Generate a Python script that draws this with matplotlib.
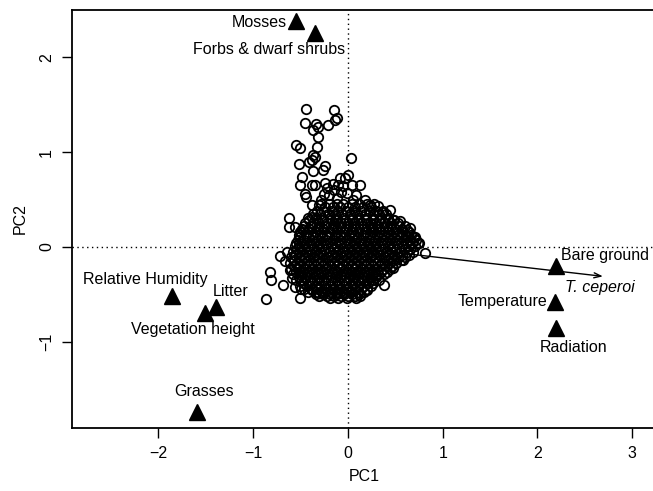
import matplotlib
matplotlib.use("Agg")
import matplotlib.pyplot as plt

plt.rcParams['font.family'] = ['Liberation Sans', 'DejaVu Sans']

# ---- data -------------------------------------------------------------
# dense core of site scores: rows of (PC2, [PC1 values])
core_rows = [
    (0.45, [-0.28, -0.2, -0.12, -0.05, 0.04, 0.12, 0.2, 0.28]),
    (0.38, [-0.33, -0.25, -0.17, -0.1, -0.02, 0.06, 0.14, 0.22, 0.3, 0.37]),
    (0.31, [-0.42, -0.34, -0.27, -0.19, -0.11, -0.04, 0.04, 0.11, 0.19, 0.27, 0.35, 0.42]),
    (0.25, [-0.45, -0.37, -0.3, -0.22, -0.15, -0.07, 0.0, 0.08, 0.15, 0.23, 0.3, 0.38, 0.46, 0.53]),
    (0.19, [-0.48, -0.41, -0.33, -0.26, -0.18, -0.11, -0.03, 0.04, 0.12, 0.19, 0.27, 0.34, 0.42, 0.5, 0.57]),
    (0.13, [-0.52, -0.44, -0.37, -0.29, -0.22, -0.14, -0.07, 0.01, 0.08, 0.16, 0.23, 0.31, 0.38, 0.46, 0.53, 0.61, 0.67]),
    (0.07, [-0.53, -0.46, -0.38, -0.31, -0.23, -0.16, -0.08, -0.01, 0.07, 0.14, 0.22, 0.29, 0.37, 0.44, 0.52, 0.59, 0.66, 0.72]),
    (0.01, [-0.56, -0.48, -0.41, -0.33, -0.26, -0.18, -0.11, -0.03, 0.04, 0.12, 0.19, 0.27, 0.34, 0.42, 0.49, 0.57, 0.64, 0.71]),
    (-0.05, [-0.58, -0.5, -0.43, -0.35, -0.28, -0.2, -0.13, -0.05, 0.02, 0.1, 0.17, 0.25, 0.32, 0.4, 0.47, 0.55, 0.62, 0.69]),
    (-0.11, [-0.6, -0.52, -0.45, -0.37, -0.3, -0.22, -0.15, -0.07, 0.0, 0.08, 0.15, 0.23, 0.3, 0.38, 0.45, 0.53, 0.6]),
    (-0.17, [-0.61, -0.54, -0.46, -0.39, -0.31, -0.24, -0.16, -0.09, -0.01, 0.06, 0.14, 0.21, 0.29, 0.36, 0.44, 0.51]),
    (-0.23, [-0.6, -0.53, -0.45, -0.38, -0.3, -0.23, -0.15, -0.08, 0.0, 0.07, 0.15, 0.22, 0.3, 0.37, 0.44]),
    (-0.29, [-0.58, -0.5, -0.43, -0.35, -0.28, -0.2, -0.13, -0.05, 0.02, 0.1, 0.17, 0.25, 0.32, 0.38]),
    (-0.35, [-0.55, -0.48, -0.4, -0.33, -0.25, -0.18, -0.1, -0.03, 0.05, 0.12, 0.2, 0.27, 0.33]),
    (-0.41, [-0.5, -0.43, -0.35, -0.28, -0.2, -0.13, -0.05, 0.02, 0.1, 0.17, 0.24]),
    (-0.47, [-0.42, -0.34, -0.27, -0.19, -0.12, -0.04, 0.03, 0.11, 0.17]),
    (-0.52, [-0.3, -0.22, -0.15, -0.07, 0.0, 0.08]),
]

# second, interleaved layer of the dense core
core_rows_b = [
    (0.42, [-0.24, -0.16, -0.08, 0.0, 0.08, 0.16, 0.24]),
    (0.35, [-0.37, -0.29, -0.21, -0.14, -0.06, 0.02, 0.1, 0.18, 0.26, 0.33, 0.4]),
    (0.28, [-0.41, -0.33, -0.26, -0.18, -0.11, -0.03, 0.04, 0.12, 0.19, 0.27, 0.34, 0.42, 0.49]),
    (0.22, [-0.46, -0.38, -0.3, -0.23, -0.15, -0.07, 0.0, 0.08, 0.16, 0.23, 0.31, 0.38, 0.46, 0.54]),
    (0.16, [-0.5, -0.42, -0.34, -0.27, -0.19, -0.11, -0.04, 0.04, 0.11, 0.19, 0.27, 0.34, 0.42, 0.49, 0.57, 0.64]),
    (0.10, [-0.5, -0.42, -0.35, -0.27, -0.2, -0.12, -0.04, 0.04, 0.11, 0.19, 0.26, 0.34, 0.41, 0.49, 0.56, 0.63, 0.7]),
    (0.04, [-0.52, -0.44, -0.37, -0.29, -0.22, -0.14, -0.07, 0.01, 0.08, 0.16, 0.23, 0.31, 0.38, 0.46, 0.53, 0.61, 0.68, 0.75]),
    (-0.02, [-0.54, -0.46, -0.39, -0.31, -0.24, -0.16, -0.09, -0.01, 0.06, 0.14, 0.21, 0.29, 0.36, 0.44, 0.51, 0.59, 0.66]),
    (-0.08, [-0.56, -0.48, -0.41, -0.33, -0.26, -0.18, -0.11, -0.03, 0.04, 0.12, 0.19, 0.27, 0.34, 0.42, 0.49, 0.57, 0.64]),
    (-0.14, [-0.57, -0.49, -0.42, -0.34, -0.27, -0.19, -0.12, -0.04, 0.03, 0.11, 0.18, 0.26, 0.33, 0.41, 0.48, 0.56]),
    (-0.20, [-0.57, -0.5, -0.42, -0.35, -0.27, -0.2, -0.12, -0.05, 0.03, 0.1, 0.18, 0.25, 0.33, 0.4, 0.47]),
    (-0.26, [-0.55, -0.47, -0.4, -0.32, -0.25, -0.17, -0.1, -0.02, 0.05, 0.13, 0.2, 0.28, 0.35, 0.41]),
    (-0.32, [-0.52, -0.44, -0.37, -0.29, -0.22, -0.14, -0.07, 0.01, 0.08, 0.16, 0.23, 0.3]),
    (-0.38, [-0.47, -0.39, -0.32, -0.24, -0.17, -0.09, -0.02, 0.06, 0.13, 0.21, 0.27]),
    (-0.44, [-0.46, -0.38, -0.31, -0.23, -0.16, -0.08, -0.01, 0.07, 0.14, 0.2]),
    (-0.50, [-0.34, -0.26, -0.19, -0.11, -0.04, 0.04, 0.12]),
]

# scattered site scores outside the core
outer_pc1 = [-0.446, -0.148, -0.12, -0.137, -0.454, -0.34, -0.32, -0.21, -0.37, -0.31,
             -0.55, -0.50, -0.33, -0.366, -0.35, -0.38, -0.41, -0.52, 0.03, -0.24,
             -0.26, -0.37, -0.48, 0.0, -0.03, -0.08, -0.50, -0.38, -0.35, -0.24,
             -0.155, -0.10, -0.05, 0.04, 0.13, -0.45, -0.44, -0.25, -0.07, -0.01,
             0.09, -0.38, -0.30, -0.62, -0.62, -0.56, -0.38, -0.51, -0.47, -0.55,
             -0.52, -0.72, -0.82, -0.815, -0.68, -0.61, -0.59, -0.56, -0.49, -0.51,
             -0.865, -0.38, -0.30, -0.19, -0.10, -0.01, 0.09, 0.44, 0.32, 0.23,
             0.48, 0.62, 0.71, 0.81, 0.74, 0.58, 0.48, 0.30, 0.27, 0.20,
             0.13, -0.2, -0.12, -0.28, 0.05, -0.15, -0.22, 0.18, 0.36, 0.55,
             0.6, 0.66, -0.64, -0.66, 0.38]
outer_pc2 = [1.457, 1.447, 1.36, 1.34, 1.306, 1.296, 1.27, 1.29, 1.23, 1.165,
             1.077, 1.04, 1.05, 0.97, 0.95, 0.92, 0.90, 0.87, 0.94, 0.85,
             0.81, 0.80, 0.74, 0.76, 0.73, 0.73, 0.65, 0.65, 0.65, 0.67,
             0.66, 0.65, 0.64, 0.65, 0.65, 0.56, 0.53, 0.56, 0.58, 0.57,
             0.55, 0.44, 0.44, 0.31, 0.21, 0.21, 0.32, 0.16, 0.18, 0.04,
             0.0, -0.10, -0.26, -0.35, -0.40, -0.24, -0.33, -0.42, -0.44, -0.54,
             -0.55, -0.45, -0.49, -0.54, -0.54, -0.54, -0.54, 0.39, 0.43, 0.44,
             0.285, 0.18, 0.11, -0.06, 0.04, -0.14, -0.22, -0.30, -0.35, -0.45,
             -0.52, 0.55, 0.52, 0.5, 0.5, 0.6, 0.62, 0.5, 0.37, 0.27,
             0.22, 0.2, -0.05, -0.15, -0.4]

# environmental variables (triangles)
env_names = ["Mosses", "Forbs & dwarf shrubs", "Relative Humidity", "Litter",
             "Vegetation height", "Grasses", "Bare ground", "Temperature", "Radiation"]
env_pc1 = [-0.55, -0.35, -1.86, -1.39, -1.51, -1.59, 2.20, 2.18, 2.20]
env_pc2 = [2.38, 2.26, -0.52, -0.63, -0.70, -1.74, -0.20, -0.58, -0.86]

# label anchor positions (data units) for each variable
lab_x = [-0.64, -0.03, -2.14, -1.24, -1.64, -1.52, 2.25, 2.10, 2.38]
lab_y = [2.37, 2.08, -0.34, -0.475, -0.876, -1.53, -0.095, -0.58, -1.06]
lab_ha = ["right", "right", "center", "center", "center", "center", "left", "right", "center"]

# species vector
species_name = "T. ceperoi"
species_vec = (2.69, -0.31)

# ---- figure -----------------------------------------------------------
fig = plt.figure(figsize=(6.53, 4.91), dpi=100)
W, H = 653, 491
ax = fig.add_axes([72 / W, 1 - 428 / H, (656 - 72) / W, (428 - 10) / H])

ax.axhline(0, color="black", lw=1.0, ls=(0, (1, 2.5)), zorder=1)
ax.axvline(0, color="black", lw=1.0, ls=(0, (1, 2.5)), zorder=1)

pc1 = []
pc2 = []
for rows in (core_rows, core_rows_b):
    for yv, xs in rows:
        for xv in xs:
            pc1.append(xv)
            pc2.append(yv)
pc1 += outer_pc1
pc2 += outer_pc2

ax.plot(pc1, pc2, ls="none", marker="o", ms=6.8, mfc="none", mec="black",
        mew=1.3, zorder=2)

ax.annotate("", xy=species_vec, xytext=(0, 0),
            arrowprops=dict(arrowstyle="->,head_length=0.5,head_width=0.18",
                            color="black", lw=1.0, shrinkA=0, shrinkB=0), zorder=3)
ax.text(2.66, -0.43, species_name, fontsize=11.5, style="italic",
        ha="center", va="center", zorder=4)

ax.plot(env_pc1, env_pc2, ls="none", marker="^", ms=11, color="black", zorder=4)
for name, lx, ly, ha in zip(env_names, lab_x, lab_y, lab_ha):
    ax.text(lx, ly, name, fontsize=11.5, ha=ha, va="center", zorder=5)

ax.set_xlim(-2.91, 3.25)
ax.set_ylim(-1.91, 2.50)
ax.set_xticks([-2, -1, 0, 1, 2, 3])
ax.set_yticks([-1, 0, 1, 2])
ax.set_xticklabels(["\u22122", "\u22121", "0", "1", "2", "3"])
ax.set_yticklabels(["\u22121", "0", "1", "2"], rotation=90, va="center")
ax.tick_params(axis="both", labelsize=11.5, length=7, width=1, direction="out", pad=6)
for s in ax.spines.values():
    s.set_linewidth(1.3)
ax.set_xlabel("PC1", fontsize=11.5, labelpad=6)
ax.set_ylabel("PC2", fontsize=11.5, labelpad=8)

fig.savefig("out.png", dpi=100)
